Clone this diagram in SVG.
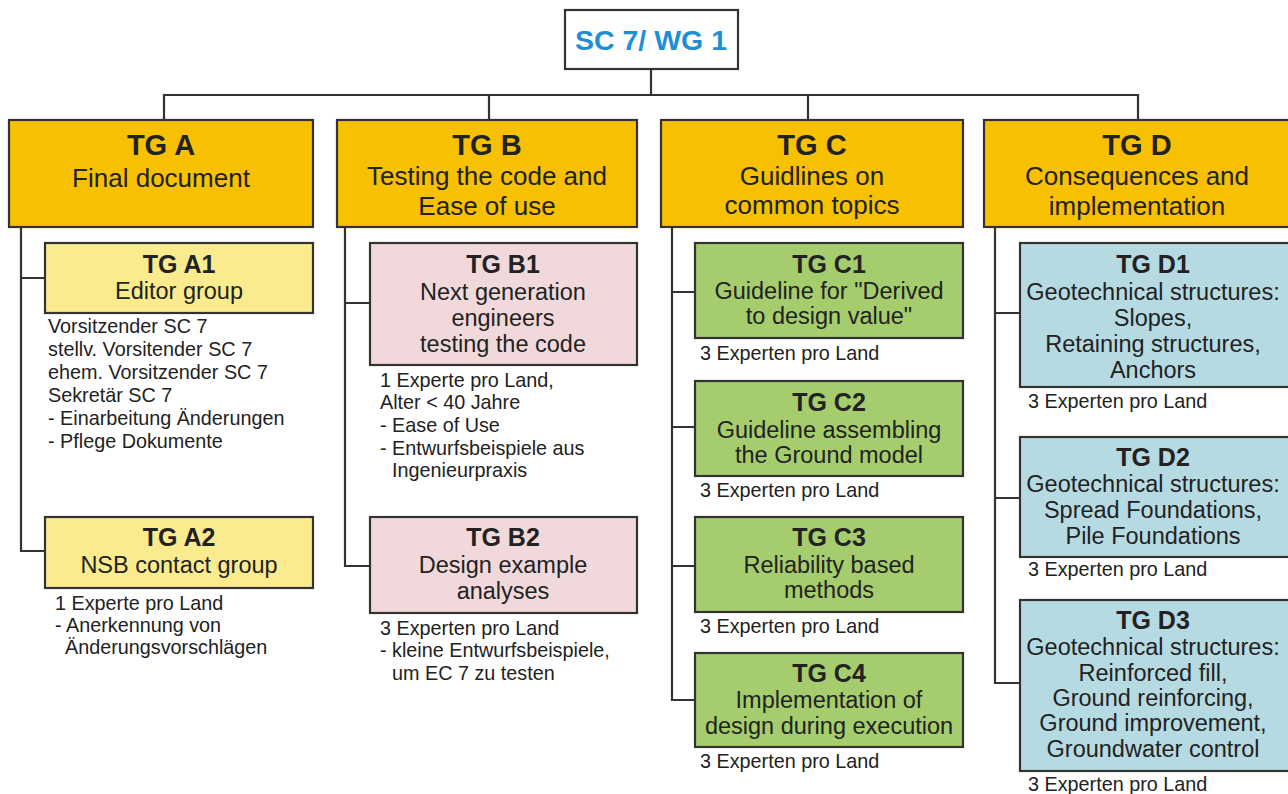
<svg xmlns="http://www.w3.org/2000/svg" width="1288" height="794" viewBox="0 0 1288 794">
<style>
text{font-family:"Liberation Sans",Arial,sans-serif;fill:#222;}
.box{stroke:#333;stroke-width:2.2;}
.top{fill:#fff;}
.main{fill:#F7C000;}
.a{fill:#FAEB8E;}
.b{fill:#F1D9DB;}
.c{fill:#A5CD6D;}
.d{fill:#B6DAE2;}
.h1{font-size:29px;font-weight:bold;text-anchor:middle;}
.s1{font-size:26px;text-anchor:middle;}
.h2{font-size:25px;font-weight:bold;text-anchor:middle;}
.s2{font-size:23.5px;text-anchor:middle;}
.n{font-size:19.8px;}
.con{fill:none;stroke:#333;stroke-width:2.2;}
</style>
<g id="connectors">
<path class="con" d="M651,69 V95 M164,120 V95 H1138 V120 M489,95 V120 M808,95 V120"/>
<path class="con" d="M21,227 V551 H45 M21,278 H45"/>
<path class="con" d="M345,227 V566 H370 M345,303 H370"/>
<path class="con" d="M672,227 V700 H695 M672,292 H695 M672,427 H695 M672,566 H695"/>
<path class="con" d="M995,227 V683 H1020 M995,313 H1020 M995,498 H1020"/>
</g>
<g id="sc7">
<rect class="box top" x="565" y="10" width="173" height="59"/>
<text x="651" y="50" style="font-size:28.5px;font-weight:bold;fill:#1E8FD5;text-anchor:middle">SC 7/ WG 1</text>
</g>
<g id="tga">
<rect class="box main" x="9" y="120" width="304" height="107"/>
<text class="h1" x="161" y="155">TG A</text>
<text class="s1" x="161" y="187">Final document</text>
</g>
<g id="tgb">
<rect class="box main" x="337" y="120" width="300" height="107"/>
<text class="h1" x="487" y="155">TG B</text>
<text class="s1" x="487" y="185">Testing the code and</text>
<text class="s1" x="487" y="215">Ease of use</text>
</g>
<g id="tgc">
<rect class="box main" x="661" y="120" width="302" height="107"/>
<text class="h1" x="812" y="155">TG C</text>
<text class="s1" x="812" y="185">Guidlines on</text>
<text class="s1" x="812" y="214">common topics</text>
</g>
<g id="tgd">
<rect class="box main" x="984" y="120" width="310" height="107"/>
<text class="h1" x="1137" y="155">TG D</text>
<text class="s1" x="1137" y="185">Consequences and</text>
<text class="s1" x="1137" y="215">implementation</text>
</g>
<g id="tga1">
<rect class="box a" x="45" y="243" width="268" height="70"/>
<text class="h2" x="179" y="273">TG A1</text>
<text class="s2" x="179" y="299">Editor group</text>
<text class="n" x="48" y="333">Vorsitzender SC 7</text>
<text class="n" x="48" y="356">stellv. Vorsitender SC 7</text>
<text class="n" x="48" y="379">ehem. Vorsitzender SC 7</text>
<text class="n" x="48" y="402">Sekretär SC 7</text>
<text class="n" x="48" y="425">- Einarbeitung Änderungen</text>
<text class="n" x="48" y="448">- Pflege Dokumente</text>
</g>
<g id="tga2">
<rect class="box a" x="45" y="517" width="268" height="71"/>
<text class="h2" x="179" y="546">TG A2</text>
<text class="s2" x="179" y="573">NSB contact group</text>
<text class="n" x="55" y="610">1 Experte pro Land</text>
<text class="n" x="55" y="632">- Anerkennung von</text>
<text class="n" x="65" y="654">Änderungsvorschlägen</text>
</g>
<g id="tgb1">
<rect class="box b" x="370" y="243" width="267" height="122"/>
<text class="h2" x="503" y="273">TG B1</text>
<text class="s2" x="503" y="300">Next generation</text>
<text class="s2" x="503" y="326">engineers</text>
<text class="s2" x="503" y="352">testing the code</text>
<text class="n" x="380" y="387">1 Experte pro Land,</text>
<text class="n" x="380" y="409">Alter &lt; 40 Jahre</text>
<text class="n" x="380" y="432">- Ease of Use</text>
<text class="n" x="380" y="455">- Entwurfsbeispiele aus</text>
<text class="n" x="392" y="477">Ingenieurpraxis</text>
</g>
<g id="tgb2">
<rect class="box b" x="370" y="517" width="267" height="96"/>
<text class="h2" x="503" y="546">TG B2</text>
<text class="s2" x="503" y="573">Design example</text>
<text class="s2" x="503" y="599">analyses</text>
<text class="n" x="380" y="635">3 Experten pro Land</text>
<text class="n" x="380" y="657">- kleine Entwurfsbeispiele,</text>
<text class="n" x="392" y="680">um EC 7 zu testen</text>
</g>
<g id="tgc1">
<rect class="box c" x="695" y="243" width="268" height="95"/>
<text class="h2" x="829" y="273">TG C1</text>
<text class="s2" x="829" y="299">Guideline for "Derived</text>
<text class="s2" x="829" y="324">to design value"</text>
<text class="n" x="700" y="360">3 Experten pro Land</text>
</g>
<g id="tgc2">
<rect class="box c" x="695" y="381" width="268" height="95"/>
<text class="h2" x="829" y="411">TG C2</text>
<text class="s2" x="829" y="438">Guideline assembling</text>
<text class="s2" x="829" y="463">the Ground model</text>
<text class="n" x="700" y="497">3 Experten pro Land</text>
</g>
<g id="tgc3">
<rect class="box c" x="695" y="517" width="268" height="95"/>
<text class="h2" x="829" y="546">TG C3</text>
<text class="s2" x="829" y="573">Reliability based</text>
<text class="s2" x="829" y="598">methods</text>
<text class="n" x="700" y="633">3 Experten pro Land</text>
</g>
<g id="tgc4">
<rect class="box c" x="695" y="653" width="268" height="94"/>
<text class="h2" x="829" y="682">TG C4</text>
<text class="s2" x="829" y="708">Implementation of</text>
<text class="s2" x="829" y="734">design during execution</text>
<text class="n" x="700" y="768">3 Experten pro Land</text>
</g>
<g id="tgd1">
<rect class="box d" x="1020" y="243" width="274" height="144"/>
<text class="h2" x="1153" y="273">TG D1</text>
<text class="s2" x="1153" y="300">Geotechnical structures:</text>
<text class="s2" x="1153" y="326">Slopes,</text>
<text class="s2" x="1153" y="352">Retaining structures,</text>
<text class="s2" x="1153" y="378">Anchors</text>
<text class="n" x="1028" y="408">3 Experten pro Land</text>
</g>
<g id="tgd2">
<rect class="box d" x="1020" y="437" width="274" height="120"/>
<text class="h2" x="1153" y="466">TG D2</text>
<text class="s2" x="1153" y="492">Geotechnical structures:</text>
<text class="s2" x="1153" y="518">Spread Foundations,</text>
<text class="s2" x="1153" y="544">Pile Foundations</text>
<text class="n" x="1028" y="576">3 Experten pro Land</text>
</g>
<g id="tgd3">
<rect class="box d" x="1020" y="600" width="274" height="171"/>
<text class="h2" x="1153" y="629">TG D3</text>
<text class="s2" x="1153" y="655">Geotechnical structures:</text>
<text class="s2" x="1153" y="681">Reinforced fill,</text>
<text class="s2" x="1153" y="706">Ground reinforcing,</text>
<text class="s2" x="1153" y="731">Ground improvement,</text>
<text class="s2" x="1153" y="757">Groundwater control</text>
<text class="n" x="1028" y="791">3 Experten pro Land</text>
</g>
</svg>
